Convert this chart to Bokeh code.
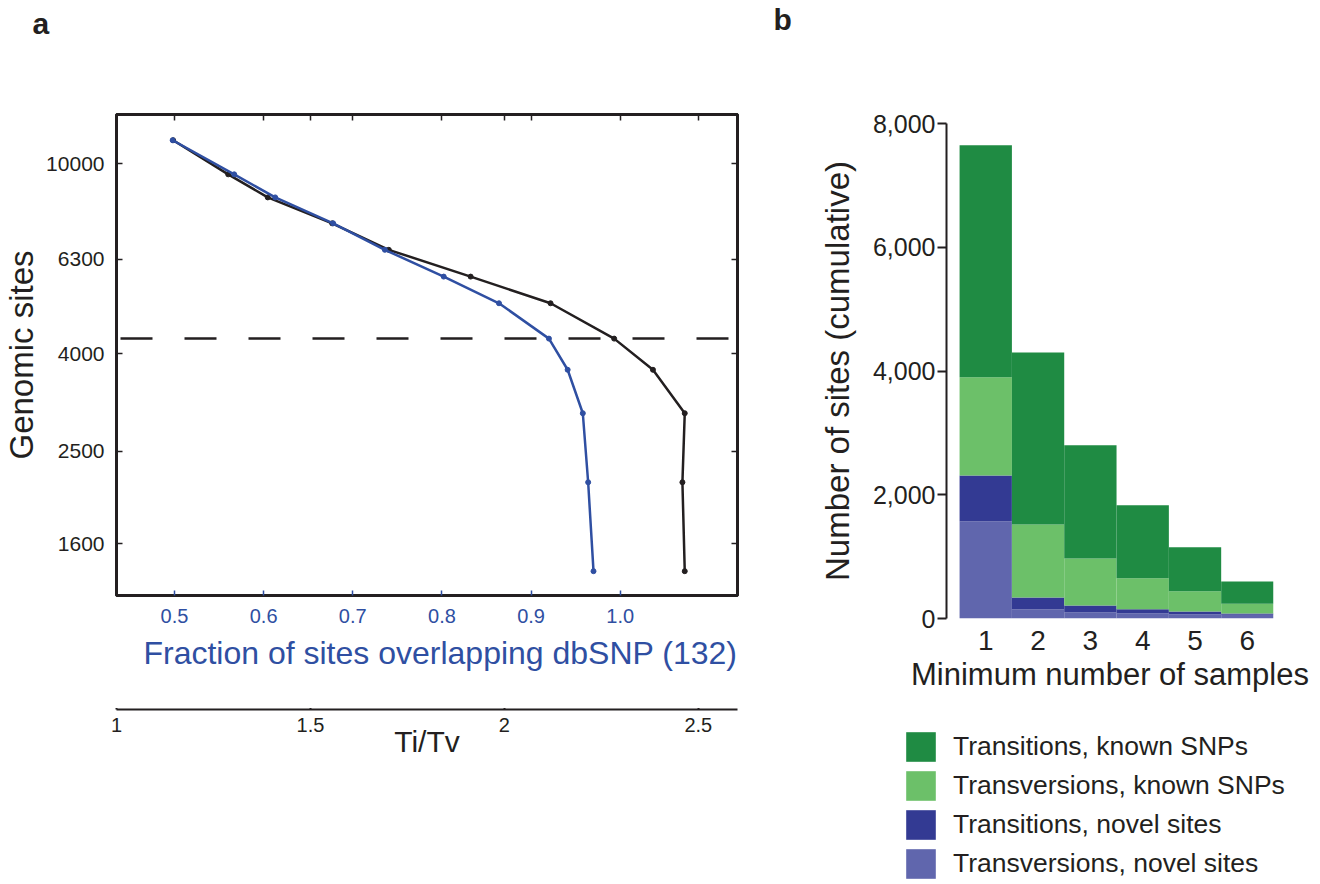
from bokeh.plotting import figure
from bokeh.models import (Range1d, LinearAxis, LogAxis, FixedTicker, NumeralTickFormatter,
                          Span, Title, Legend, LegendItem, ColumnDataSource)
from bokeh.layouts import row, column
from bokeh.embed import file_html
from bokeh.resources import INLINE

FONT = "Liberation Sans"
BLUE = "#2F4FA2"
INK = "#231F20"

# ---------------- data: panel a ----------------
genomic_sites = [11200, 9500, 8500, 7500, 6600, 5800, 5100, 4300, 3700, 3000, 2150, 1400]
dbsnp_fraction = [0.498, 0.567, 0.613, 0.678, 0.736, 0.802, 0.864, 0.920, 0.941, 0.958, 0.964, 0.970]
titv_ratio = [1.146, 1.288, 1.390, 1.556, 1.702, 1.913, 2.119, 2.283, 2.383, 2.465, 2.459, 2.465]
threshold_sites = 4300
site_ticks = [1600, 2500, 4000, 6300, 10000]
fraction_ticks = [0.5, 0.6, 0.7, 0.8, 0.9, 1.0]
titv_ticks = [1, 1.5, 2, 2.5]
titv_top_ticks = [1.5, 2, 2.5]

# ---------------- data: panel b ----------------
min_samples = [1, 2, 3, 4, 5, 6]
ti_known = [3750, 2780, 1830, 1180, 710, 360]
tv_known = [1590, 1180, 760, 500, 325, 160]
ti_novel = [740, 190, 115, 70, 50, 20]
tv_novel = [1570, 150, 95, 80, 65, 60]
count_ticks = [0, 2000, 4000, 6000, 8000]
series_labels = ["Transitions, known SNPs", "Transversions, known SNPs",
                 "Transitions, novel sites", "Transversions, novel sites"]
series_colors = ["#1F8B43", "#6CC069", "#333A93", "#6066AD"]


def blank(fig):
    fig.grid.visible = False
    fig.outline_line_color = None
    fig.background_fill_color = "white"
    fig.border_fill_color = "white"


def header(letter, left, fw, right, offset, standoff):
    h = figure(frame_width=fw, frame_height=1, min_border_left=left, min_border_right=right,
               min_border_top=0, min_border_bottom=0, x_axis_location=None,
               y_axis_location=None, output_backend="svg", toolbar_location=None)
    blank(h)
    h.add_layout(Title(text=letter, align="left", offset=offset, standoff=standoff,
                       text_font=FONT, text_font_size="30px", text_font_style="bold",
                       text_color=INK), "above")
    return h


# ================= panel a =================
titv_range = Range1d(1.0, 2.601)
p1 = figure(x_range=Range1d(0.435, 1.1315), y_range=Range1d(1245, 12680), y_axis_type="log",
            frame_width=621, frame_height=481, min_border_left=114, min_border_top=70,
            min_border_right=25, min_border_bottom=113,
            output_backend="svg", toolbar_location=None)
p1.extra_x_ranges = {"titv": titv_range}
blank(p1)
p1.outline_line_color = INK
p1.outline_line_width = 3
ly = p1.left[0]
bx = p1.below[0]

ly.ticker = FixedTicker(ticks=site_ticks)
ly.formatter = NumeralTickFormatter(format="0")
ly.major_tick_in = 6
ly.major_tick_out = 0
ly.minor_tick_line_color = None
ly.major_tick_line_color = INK
ly.major_tick_line_width = 1.5
ly.axis_line_color = INK
ly.axis_line_width = 3
ly.major_label_text_font = FONT
ly.major_label_text_font_size = "21px"
ly.major_label_text_color = INK
ly.major_label_standoff = 12
ly.axis_label = "Genomic sites"
ly.axis_label_text_font = FONT
ly.axis_label_text_font_size = "33px"
ly.axis_label_text_font_style = "normal"
ly.axis_label_text_color = INK
ly.axis_label_standoff = 3

bx.ticker = FixedTicker(ticks=fraction_ticks)
bx.formatter = NumeralTickFormatter(format="0.0")
bx.major_tick_in = 5
bx.major_tick_out = 0
bx.minor_tick_line_color = None
bx.major_tick_line_color = BLUE
bx.major_tick_line_width = 1.5
bx.axis_line_color = INK
bx.axis_line_width = 3
bx.major_label_text_font = FONT
bx.major_label_text_font_size = "20px"
bx.major_label_text_color = BLUE
bx.major_label_standoff = 13

ry = LogAxis(ticker=FixedTicker(ticks=site_ticks), major_tick_in=6, major_tick_out=0,
             minor_tick_line_color=None, major_tick_line_color=INK, major_tick_line_width=1.5,
             axis_line_color=INK, axis_line_width=3, major_label_text_font_size="1px",
             major_label_text_color=None, major_label_standoff=0)
p1.add_layout(ry, "right")

for rng, ticks in (("default", fraction_ticks), ("titv", titv_top_ticks)):
    ta = LinearAxis(x_range_name=rng, ticker=FixedTicker(ticks=ticks), major_tick_in=6,
                    major_tick_out=0, minor_tick_line_color=None, major_tick_line_color=INK,
                    major_tick_line_width=1.5, axis_line_color=INK, axis_line_width=3,
                    major_label_text_font_size="1px", major_label_text_color=None,
                    major_label_standoff=0)
    p1.add_layout(ta, "above")

p1.add_layout(Title(text="Fraction of sites overlapping dbSNP (132)", align="right",
                    vertical_align="top", text_color=BLUE, text_font=FONT,
                    text_font_size="32px", text_font_style="normal", standoff=18), "below")

p1.line(titv_ratio, genomic_sites, x_range_name="titv", line_color=INK, line_width=2.5)
p1.scatter(titv_ratio, genomic_sites, x_range_name="titv", size=5, color=INK)
p1.line(dbsnp_fraction, genomic_sites, line_color=BLUE, line_width=2.5)
p1.scatter(dbsnp_fraction, genomic_sites, size=5, color=BLUE)

p1.add_layout(Span(location=threshold_sites, dimension="width", line_color=INK,
                   line_width=2.5, line_dash="32 32", line_dash_offset=60))

# Ti/Tv axis, drawn as the lower scale of panel a
p1b = figure(x_range=titv_range, y_range=Range1d(0, 1), frame_width=621, frame_height=1,
             min_border_left=114, min_border_right=25, min_border_top=0, min_border_bottom=0,
             y_axis_location=None, output_backend="svg", toolbar_location=None)
blank(p1b)
tx = p1b.below[0]
tx.ticker = FixedTicker(ticks=titv_ticks)
tx.formatter = NumeralTickFormatter(format="0.[0]")
tx.major_tick_in = 6
tx.major_tick_out = 0
tx.minor_tick_line_color = None
tx.major_tick_line_color = INK
tx.major_tick_line_width = 2
tx.axis_line_color = INK
tx.axis_line_width = 2
tx.major_label_text_font = FONT
tx.major_label_text_font_size = "20px"
tx.major_label_text_color = INK
tx.major_label_standoff = 8
tx.axis_label = "Ti/Tv"
tx.axis_label_text_font = FONT
tx.axis_label_text_font_size = "30px"
tx.axis_label_text_font_style = "normal"
tx.axis_label_text_color = INK
tx.axis_label_standoff = -10

# ================= panel b =================
src = ColumnDataSource(dict(x=min_samples, ti_known=ti_known, tv_known=tv_known,
                            ti_novel=ti_novel, tv_novel=tv_novel))
p2 = figure(x_range=Range1d(0.25, 6.5), y_range=Range1d(0, 8000),
            frame_width=327, frame_height=495, min_border_left=184, min_border_top=87,
            min_border_right=45, min_border_bottom=110,
            output_backend="svg", toolbar_location=None)
blank(p2)

stack_keys = ["tv_novel", "ti_novel", "tv_known", "ti_known"]
stack_colors = [series_colors[3], series_colors[2], series_colors[1], series_colors[0]]
p2.vbar_stack(stack_keys, x="x", width=1.0, color=stack_colors, line_color=None, source=src)

yy = p2.left[0]
yy.ticker = FixedTicker(ticks=count_ticks)
yy.formatter = NumeralTickFormatter(format="0,0")
yy.major_tick_out = 9
yy.major_tick_in = 0
yy.minor_tick_line_color = None
yy.major_tick_line_color = INK
yy.major_tick_line_width = 2
yy.axis_line_color = INK
yy.axis_line_width = 2
yy.major_label_text_font = FONT
yy.major_label_text_font_size = "25px"
yy.major_label_text_color = INK
yy.major_label_standoff = 2
yy.axis_label = "Number of sites (cumulative)"
yy.axis_label_text_font = FONT
yy.axis_label_text_font_size = "33px"
yy.axis_label_text_font_style = "normal"
yy.axis_label_text_color = INK
yy.axis_label_standoff = 14

xx = p2.below[0]
xx.ticker = FixedTicker(ticks=min_samples)
xx.axis_line_color = None
xx.major_tick_line_color = None
xx.minor_tick_line_color = None
xx.major_label_text_font = FONT
xx.major_label_text_font_size = "28px"
xx.major_label_text_color = INK
xx.major_label_standoff = 6
xx.axis_label = "Minimum number of samples"
xx.axis_label_text_font = FONT
xx.axis_label_text_font_size = "31px"
xx.axis_label_text_font_style = "normal"
xx.axis_label_text_color = INK
xx.axis_label_standoff = 4

# legend of panel b, in its own strip below the bars
hl = figure(x_range=Range1d(0, 1), y_range=Range1d(0, 1), frame_width=555, frame_height=154,
            min_border_left=0, min_border_right=0, min_border_top=0, min_border_bottom=0,
            x_axis_location=None, y_axis_location=None,
            output_backend="svg", toolbar_location=None)
blank(hl)
rl = hl.vbar_stack(stack_keys, x="x", width=1.0, color=stack_colors, line_color=None,
                   source=src, visible=False)
legend = Legend(items=[LegendItem(label=series_labels[0], renderers=[rl[3]]),
                       LegendItem(label=series_labels[1], renderers=[rl[2]]),
                       LegendItem(label=series_labels[2], renderers=[rl[1]]),
                       LegendItem(label=series_labels[3], renderers=[rl[0]])],
                location=(140, 0), glyph_width=37, glyph_height=37, label_height=37,
                spacing=2, label_standoff=14, label_text_font=FONT,
                label_text_font_size="26.5px", label_text_color=INK,
                border_line_color=None, background_fill_alpha=0, padding=0, margin=0,
                inactive_fill_alpha=0)
hl.add_layout(legend)

ha = header("a", 114, 621, 25, -84, 8)
hb = header("b", 184, 327, 45, -173, 0)

layout = row(column(ha, p1, p1b), column(hb, p2, hl))
open("out.html", "w").write(file_html(layout, INLINE))
